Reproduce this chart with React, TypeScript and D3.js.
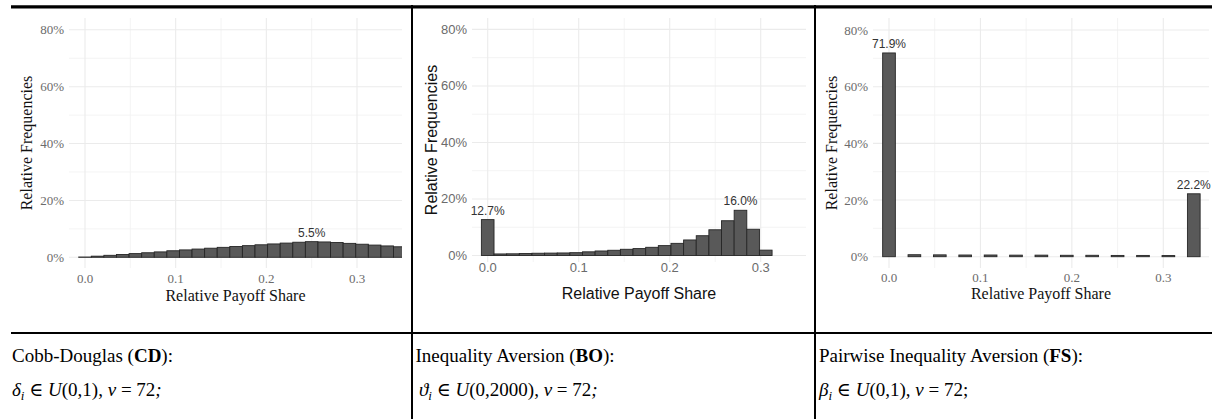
import React from "react";
import * as d3 from "d3";

// ---------- data ----------
const BIN_WIDTH = 1 / 72;
const xTicks = [0, 0.1, 0.2, 0.3];
const xMinorTicks = [0.05, 0.15, 0.25];
const yTicks = [0, 0.2, 0.4, 0.6, 0.8];
const yMinorTicks = [0.1, 0.3, 0.5, 0.7];

// Cobb-Douglas (CD): bin index (share = bin/72) and relative frequency in %
const cdBins = [0, 1, 2, 3, 4, 5, 6, 7, 8, 9, 10, 11, 12, 13, 14, 15, 16, 17, 18, 19, 20, 21, 22, 23, 24, 25];
const cdValues = [0.1, 0.4, 0.7, 1.0, 1.3, 1.6, 1.9, 2.3, 2.6, 2.9, 3.2, 3.5, 3.8, 4.1, 4.4, 4.7, 5.0, 5.3, 5.5, 5.4, 5.2, 4.9, 4.6, 4.3, 4.0, 3.7];
const cdLabelBins = [18];

// Inequality Aversion (BO)
const boBins = [0, 1, 2, 3, 4, 5, 6, 7, 8, 9, 10, 11, 12, 13, 14, 15, 16, 17, 18, 19, 20, 21, 22];
const boValues = [12.7, 0.55, 0.6, 0.7, 0.8, 0.85, 0.9, 1.0, 1.3, 1.6, 1.85, 2.2, 2.45, 2.9, 3.5, 4.3, 5.5, 7.0, 9.1, 12.3, 16.0, 9.3, 1.9];
const boLabelBins = [0, 20];

// Pairwise Inequality Aversion (FS)
const fsBins = [0, 2, 4, 6, 8, 10, 12, 14, 16, 18, 20, 22, 24];
const fsValues = [71.9, 0.7, 0.65, 0.6, 0.6, 0.55, 0.55, 0.5, 0.5, 0.45, 0.45, 0.4, 22.2];
const fsLabelBins = [0, 24];

const xAxisTitle = "Relative Payoff Share";
const yAxisTitle = "Relative Frequencies";

// ---------- layout ----------
const SERIF = "'Liberation Serif', 'Times New Roman', serif";
const SANS = "'Liberation Sans', Arial, sans-serif";

type Layout = {
  id: string;
  left: number; right: number; top: number; bottom: number;
  x0: number; x3: number; y0: number; y80: number;
  tickY: number; titleY: number; yTitleX: number; font: string;
};

const layouts: Layout[] = [
  { id: "cd", left: 69, right: 402, top: 18, bottom: 268, x0: 85, x3: 357, y0: 257.3, y80: 29.8, tickY: 278, titleY: 295, yTitleX: 26, font: SERIF },
  { id: "bo", left: 472, right: 806, top: 18, bottom: 262, x0: 487.7, x3: 760.7, y0: 255.5, y80: 29.4, tickY: 267, titleY: 293.3, yTitleX: 431, font: SANS },
  { id: "fs", left: 873, right: 1209, top: 18, bottom: 268, x0: 889, x3: 1163.3, y0: 256.7, y80: 30, tickY: 277.7, titleY: 293.3, yTitleX: 831, font: SERIF },
];

const panelsData = [
  { bins: cdBins, values: cdValues, labels: cdLabelBins },
  { bins: boBins, values: boValues, labels: boLabelBins },
  { bins: fsBins, values: fsValues, labels: fsLabelBins },
];

function Panel({ L, bins, values, labels }: { L: Layout; bins: number[]; values: number[]; labels: number[] }) {
  const x = d3.scaleLinear().domain([0, 0.3]).range([L.x0, L.x3]);
  const y = d3.scaleLinear().domain([0, 0.8]).range([L.y0, L.y80]);
  const pct = d3.format(".0%");
  const clipId = `clip-${L.id}`;
  return (
    <g>
      <defs>
        <clipPath id={clipId}>
          <rect x={L.left} y={L.top} width={L.right - L.left} height={L.bottom - L.top} />
        </clipPath>
      </defs>
      {/* minor grid */}
      {yMinorTicks.map((t) => (
        <line key={"ym" + t} x1={L.left} x2={L.right} y1={y(t)} y2={y(t)} stroke="#f3f3f3" strokeWidth={0.9} />
      ))}
      {xMinorTicks.map((t) => (
        <line key={"xm" + t} x1={x(t)} x2={x(t)} y1={L.top} y2={L.bottom} stroke="#f3f3f3" strokeWidth={0.9} />
      ))}
      {/* major grid */}
      {yTicks.map((t) => (
        <line key={"y" + t} x1={L.left} x2={L.right} y1={y(t)} y2={y(t)} stroke="#ebebeb" strokeWidth={1.1} />
      ))}
      {xTicks.map((t) => (
        <line key={"x" + t} x1={x(t)} x2={x(t)} y1={L.top} y2={L.bottom} stroke="#ebebeb" strokeWidth={1.1} />
      ))}
      {/* bars */}
      <g clipPath={`url(#${clipId})`}>
        {bins.map((b, i) => {
          const c = b * BIN_WIDTH;
          const x1 = x(c - BIN_WIDTH / 2);
          const x2 = x(c + BIN_WIDTH / 2);
          const yt = y(values[i] / 100);
          return (
            <rect key={b} x={x1} y={yt} width={x2 - x1} height={y(0) - yt}
              fill="#595959" stroke="#262626" strokeWidth={0.9} />
          );
        })}
      </g>
      {/* data labels */}
      {labels.map((b) => {
        const i = bins.indexOf(b);
        return (
          <text key={"l" + b} x={x(b * BIN_WIDTH)} y={y(values[i] / 100) - 5} textAnchor="middle"
            fontFamily={SANS} fontSize={12} fill="#333">
            {values[i].toFixed(1) + "%"}
          </text>
        );
      })}
      {/* y tick labels */}
      {yTicks.map((t) => (
        <text key={"yl" + t} x={L.left - 5} y={y(t) + 4.5} textAnchor="end" fontFamily={L.font} fontSize={13} fill="#6b6b6b">
          {pct(t)}
        </text>
      ))}
      {/* x tick labels */}
      {xTicks.map((t) => (
        <text key={"xl" + t} x={x(t)} y={L.tickY + 4.5} textAnchor="middle" fontFamily={L.font} fontSize={13} fill="#6b6b6b">
          {d3.format(".1f")(t)}
        </text>
      ))}
      {/* axis titles */}
      <text x={(L.left + L.right) / 2} y={L.titleY + 5.5} textAnchor="middle" fontFamily={L.font} fontSize={16} fill="#111">
        {xAxisTitle}
      </text>
      <text transform={`translate(${L.yTitleX},${(L.top + L.bottom) / 2}) rotate(-90)`} textAnchor="middle"
        dominantBaseline="central" fontFamily={L.font} fontSize={16} fill="#111">
        {yAxisTitle}
      </text>
    </g>
  );
}

const MATH = "'Liberation Serif', 'DejaVu Serif', serif";

export default function App() {
  return (
    <svg width={1212} height={419} style={{ position: "absolute", left: 0, top: 0, background: "#fff" }}>
      <rect x={0} y={0} width={1212} height={419} fill="#fff" />
      {layouts.map((L, k) => (
        <Panel key={L.id} L={L} bins={panelsData[k].bins} values={panelsData[k].values} labels={panelsData[k].labels} />
      ))}
      {/* table rules */}
      <line x1={11} x2={1212} y1={6.8} y2={6.8} stroke="#000" strokeWidth={3.2} />
      <line x1={11} x2={1212} y1={333} y2={333} stroke="#000" strokeWidth={1.8} />
      <line x1={412} x2={412} y1={5} y2={419} stroke="#000" strokeWidth={2} />
      <line x1={815} x2={815} y1={5} y2={419} stroke="#000" strokeWidth={2} />
      {/* captions */}
      <g fontFamily={SERIF} fontSize={19} fill="#000">
        <text x={12} y={362}>Cobb-Douglas (<tspan fontWeight="bold">CD</tspan>):</text>
        <text x={415.5} y={362}>Inequality Aversion (<tspan fontWeight="bold">BO</tspan>):</text>
        <text x={819} y={362}>Pairwise Inequality Aversion (<tspan fontWeight="bold">FS</tspan>):</text>
      </g>
      <g fontFamily={MATH} fontSize={19} fill="#000">
        <text x={12} y={396}>
          <tspan fontStyle="italic">δ</tspan><tspan fontStyle="italic" fontSize={13} dy={4}>i</tspan>
          <tspan dy={-4}> ∈ </tspan><tspan fontStyle="italic">U</tspan>(0,1), <tspan fontStyle="italic">v</tspan> = 72<tspan fontStyle="italic">;</tspan>
        </text>
        <text x={419} y={396}>
          <tspan fontStyle="italic">ϑ</tspan><tspan fontStyle="italic" fontSize={13} dy={4}>i</tspan>
          <tspan dy={-4}> ∈ </tspan><tspan fontStyle="italic">U</tspan>(0,2000), <tspan fontStyle="italic">v</tspan> = 72<tspan fontStyle="italic">;</tspan>
        </text>
        <text x={819} y={396}>
          <tspan fontStyle="italic">β</tspan><tspan fontStyle="italic" fontSize={13} dy={4}>i</tspan>
          <tspan dy={-4}> ∈ </tspan><tspan fontStyle="italic">U</tspan>(0,1), <tspan fontStyle="italic">v</tspan> = 72;
        </text>
      </g>
    </svg>
  );
}
